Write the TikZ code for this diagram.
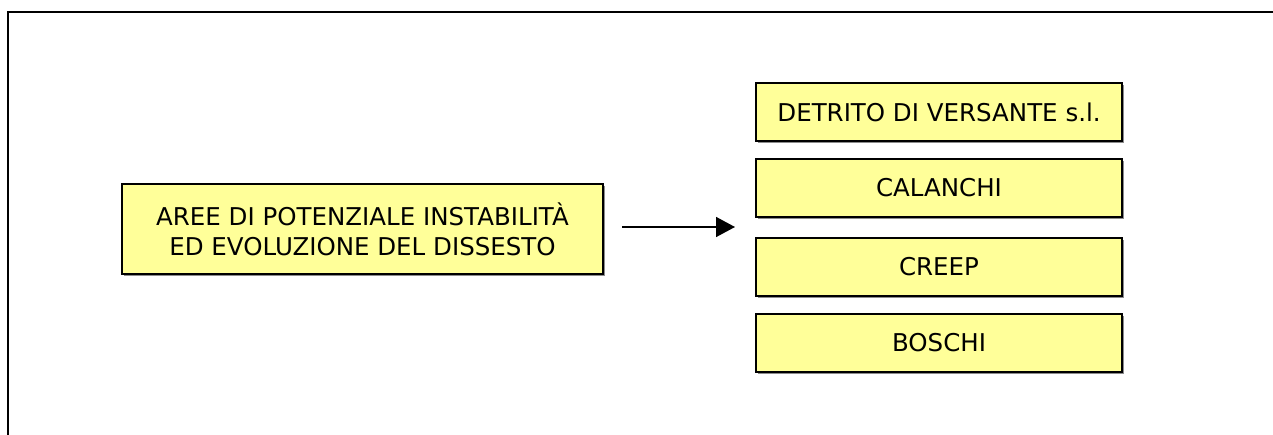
\documentclass[tikz,border=0pt]{standalone}
\usepackage{fontspec}
\setmainfont{DejaVu Sans}
\usetikzlibrary{arrows.meta}
\usetikzlibrary{shadows}
\definecolor{boxyellow}{HTML}{FFFF99}

\begin{document}
\begin{tikzpicture}[line cap=butt,line join=miter,>={Triangle[length=19pt,width=20pt]},x=1pt,y=-1pt,
    voce/.style={rectangle, draw, line width=2pt, fill=boxyellow, align=center,
      font=\fontsize{24.5}{30}\selectfont, inner sep=0pt,
      drop shadow={shadow xshift=2pt, shadow yshift=-2pt, fill=black!45, opacity=1}},
    destra/.style={voce, minimum width=366pt, minimum height=58pt}]
                    \useasboundingbox (0,0) rectangle (1273,435);
                    \draw [line width=2pt] (8,436) |- (1274,12);

                    \node [voce, minimum width=481pt, minimum height=90pt] (aree) at (362.5,229)
                        {AREE DI POTENZIALE INSTABILITÀ\\ED EVOLUZIONE DEL DISSESTO};

                    \node [destra] (detrito) at (939,112.5) {DETRITO DI VERSANTE s.l.};
                    \node [destra] (calanchi) at (939,188) {CALANCHI};
                    \node [destra] (creep) at (939,267) {CREEP};
                    \node [destra] (boschi) at (939,343) {BOSCHI};

                    \draw [->, line width=1.5pt, shorten <=18pt, shorten >=20pt] (aree.east |- 0,227) -- (calanchi.west |- 0,227);
                \end{tikzpicture}
\end{document}
